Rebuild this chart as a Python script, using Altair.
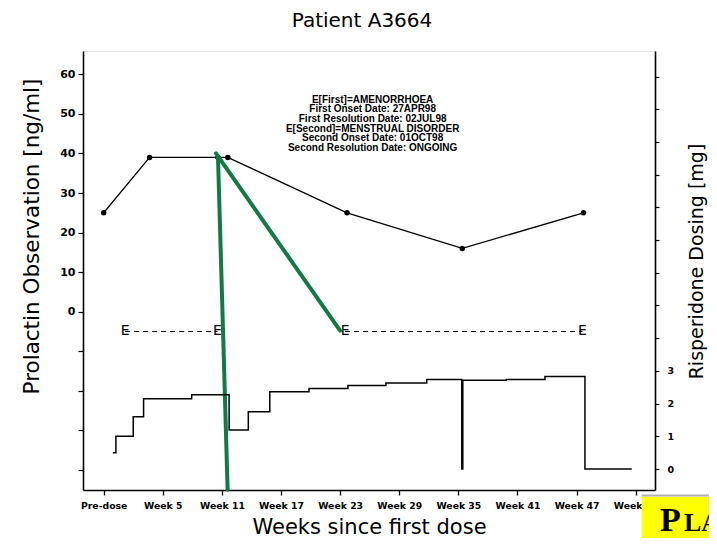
import altair as alt
import pandas as pd

# ---- data ----
prl_week = [-1, 3.66, 10.6, 11.6, 23.7, 35.4, 47.7]
prl_value = [25, 39, 39, 39, 25, 16, 25]

dose_week = [-0.07, 0.24, 2.0, 3.05, 7.93, 11.73, 13.68, 15.86, 19.84, 23.79,
             27.65, 31.79, 35.35, 35.45, 39.86, 43.79, 47.85, 52.6]
dose_mg = [0.5, 1.0, 1.6, 2.15, 2.27, 1.19, 1.75, 2.36, 2.46, 2.55,
           2.63, 2.74, 0.0, 2.71, 2.74, 2.83, 0.0, 0.0]

ae_start = [1.18, 23.5]
ae_end = [10.55, 47.6]
ae_level = [-5, -5]

green_x1 = [10.4, 10.6]
green_y1 = [40.0, 39.3]
green_x2 = [23.0, 11.58]
green_y2 = [-4.8, -45.0]

x_ticks = [-1, 5, 11, 17, 23, 29, 35, 41, 47, 53]
y_ticks = [-40, -30, -20, -10, 0, 10, 20, 30, 40, 50, 60]
dose_ticks = list(range(0, 13))

note_lines = [
    "E[First]=AMENORRHOEA",
    "First Onset Date: 27APR98",
    "First Resolution Date: 02JUL98",
    "E[Second]=MENSTRUAL DISORDER",
    "Second Onset Date: 01OCT98",
    "Second Resolution Date: ONGOING",
]
note_week = 26.3
note_value = 54.9

# ---- tables ----
prl = pd.DataFrame({"week": prl_week, "value": prl_value})
dose = pd.DataFrame({"week": dose_week, "mg": dose_mg})
ae = pd.DataFrame({"x1": ae_start, "x2": ae_end, "y": ae_level})
ae_pts = pd.DataFrame({"week": ae_start + ae_end, "value": ae_level + ae_level})
green = pd.DataFrame({"x1": green_x1, "y1": green_y1, "x2": green_x2, "y2": green_y2})
note = pd.DataFrame({"week": [note_week], "value": [note_value], "txt": ["\n".join(note_lines)]})

FONT = "DejaVu Sans"

x_scale = alt.Scale(domain=[-3.1, 54.96], nice=False, zero=False)
x_axis = alt.Axis(values=x_ticks,
                  labelExpr="datum.value == -1 ? 'Pre-dose' : 'Week ' + datum.value",
                  title="Weeks since first dose", grid=False,
                  labelFont=FONT, labelFontWeight="bold", labelFontSize=9.3,
                  labelColor="black", labelPadding=6, tickSize=5, tickColor="black",
                  tickWidth=1.3, domainColor="black", domainWidth=1.6,
                  titleFont=FONT, titleFontSize=21, titleFontWeight="normal",
                  titleColor="black", titlePadding=6, labelFlush=False)

y_scale = alt.Scale(domain=[-45.08, 65.9], nice=False, zero=False)
y_axis = alt.Axis(values=y_ticks, orient="left",
                  labelExpr="datum.value >= 0 ? datum.label : ''",
                  title="Prolactin Observation [ng/ml]", grid=False,
                  labelFont=FONT, labelFontWeight="bold", labelFontSize=11,
                  labelColor="black", labelPadding=3, tickSize=5, tickColor="black",
                  tickWidth=1.2, domainColor="black", domainWidth=1.6,
                  titleFont=FONT, titleFontSize=21.5, titleFontWeight="normal",
                  titleColor="black", titlePadding=16, titleY=185, titleAngle=270)

d_scale = alt.Scale(domain=[-0.642, 12.78], nice=False, zero=False)
d_axis = alt.Axis(values=dose_ticks, orient="right",
                  labelExpr="datum.value <= 3 ? datum.label : ''",
                  title="Risperidone Dosing [mg]", grid=False,
                  labelFont=FONT, labelFontWeight="bold", labelFontSize=9.5,
                  labelColor="black", labelPadding=8, tickSize=4, tickColor="black",
                  tickWidth=1.2, domainColor="black", domainWidth=1.6,
                  titleFont=FONT, titleFontSize=19, titleFontWeight="normal",
                  titleColor="black", titlePadding=33, titleY=210, titleAngle=270)


def X(f):
    return alt.X(f, type="quantitative", scale=x_scale, axis=x_axis)


def Y(f):
    return alt.Y(f, type="quantitative", scale=y_scale, axis=y_axis)


prl_line = alt.Chart(prl).mark_line(color="black", strokeWidth=1.3).encode(
    x=X("week"), y=Y("value"))
prl_pts = alt.Chart(prl).mark_circle(color="black", size=30, opacity=1).encode(
    x=X("week"), y=Y("value"))

ae_rule = alt.Chart(ae).mark_rule(color="black", strokeWidth=1, strokeDash=[5, 4]).encode(
    x=X("x1"), x2="x2", y=Y("y"))
ae_txt = alt.Chart(ae_pts).mark_text(text="E", font=FONT, fontSize=14, color="black",
                                     baseline="middle", align="center").encode(
    x=X("week"), y=Y("value"))

note_txt = alt.Chart(note).mark_text(font="Liberation Sans", fontWeight="bold", fontSize=10,
                                     lineHeight=9.7, baseline="top", align="center",
                                     lineBreak="\n", color="black").encode(
    x=X("week"), y=Y("value"), text="txt")

green_rule = alt.Chart(green).mark_rule(color="#137a45", strokeWidth=4, strokeCap="round").encode(
    x=X("x1"), x2="x2", y=Y("y1"), y2="y2")

dose_line = alt.Chart(dose).mark_line(color="black", strokeWidth=1.5,
                                      interpolate="step-after").encode(
    x=X("week"), y=alt.Y("mg", type="quantitative", scale=d_scale, axis=d_axis))

# stamp in the lower right corner of the scan
stamp_box = alt.Chart(note).mark_rect(color="#ffff00").encode(
    x=alt.value(558.7), x2=alt.value(640), y=alt.value(445.7), y2=alt.value(510))
stamp_edge = alt.Chart(note).mark_rule(color="#b0b0b0", strokeWidth=2).encode(
    x=alt.value(558.7), x2=alt.value(640), y=alt.value(444.5))
stamp_p = alt.Chart(note).mark_text(text="P", font="Liberation Serif", fontWeight="bold",
                                    fontSize=34, align="left", baseline="alphabetic",
                                    color="black").encode(x=alt.value(577), y=alt.value(479.5))
stamp_la = alt.Chart(note).mark_text(text="LA", font="Liberation Serif", fontWeight="bold",
                                     fontSize=26, align="left", baseline="alphabetic",
                                     color="black").encode(x=alt.value(601), y=alt.value(479.5))

left = alt.layer(prl_line, prl_pts, ae_rule, ae_txt, note_txt, green_rule)
chart = alt.layer(left, dose_line, stamp_box, stamp_edge, stamp_p, stamp_la).resolve_scale(
    y="independent"
).properties(
    width=572, height=439,
    title=alt.TitleParams("Patient A3664", font=FONT, fontSize=20, fontWeight="normal",
                          color="black", offset=20, anchor="middle", dx=-7),
    autosize=alt.AutoSizeParams(type="none"),
    padding={"left": 75, "top": 43, "right": 54, "bottom": 48},
).configure_view(stroke="black", strokeWidth=1.6).configure(background="white")

chart.save("out.html", embed_options={"renderer": "svg", "actions": False})
